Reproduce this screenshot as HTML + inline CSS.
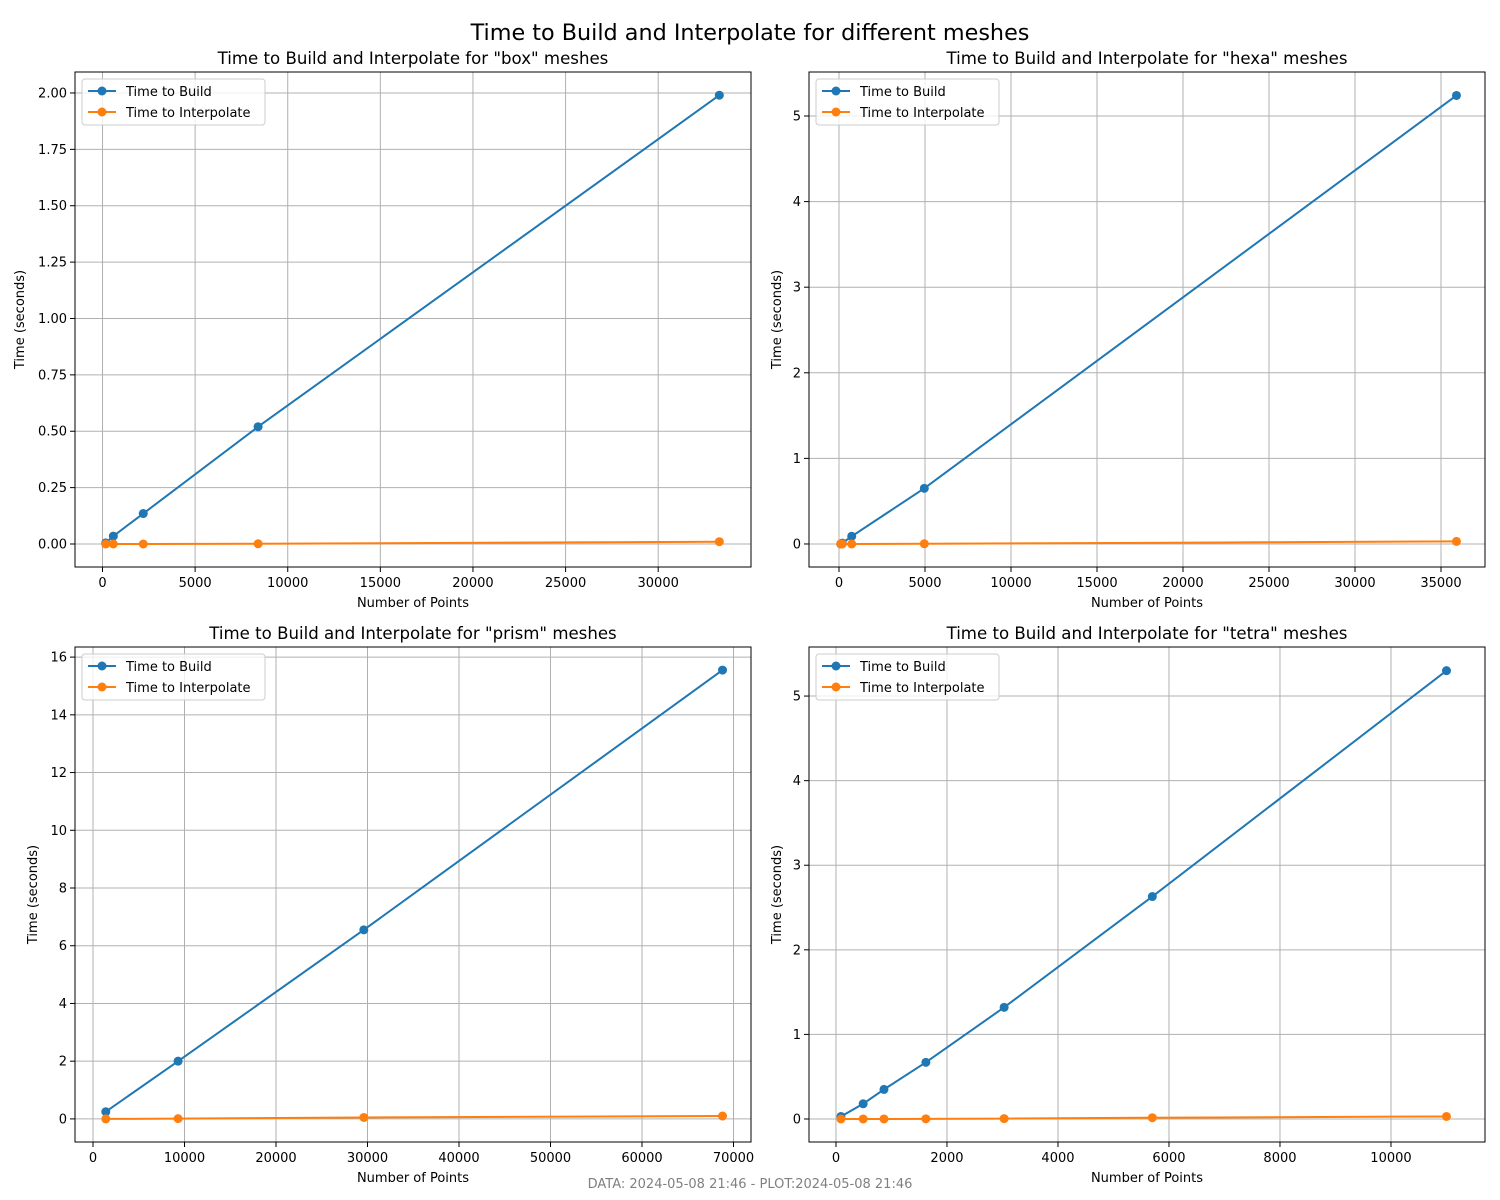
<!DOCTYPE html>
<html><head><meta charset="utf-8"><style>
body{margin:0;background:#fff;font-family:"DejaVu Sans","Liberation Sans",sans-serif}
svg text{font-family:"DejaVu Sans","Liberation Sans",sans-serif}
</style></head><body>
<svg id="fig" width="1500" height="1200" xmlns="http://www.w3.org/2000/svg" style="display:block">
<text x="750" y="40" text-anchor="middle" font-size="22.3" fill="#000">Time to Build and Interpolate for different meshes</text>
<text x="750" y="1188" text-anchor="middle" font-size="13" fill="#808080">DATA: 2024-05-08 21:46 - PLOT:2024-05-08 21:46</text>
</svg>
<script>
const boxX=[170,585,2200,8400,33300];
const boxBuild=[0.005,0.035,0.135,0.52,1.99];
const boxInterp=[0.0,0.0,0.0,0.001,0.01];
const hexaX=[100,190,740,4960,35900];
const hexaBuild=[0.0,0.01,0.09,0.65,5.24];
const hexaInterp=[0.0,0.0,0.0,0.002,0.03];
const prismX=[1400,9300,29600,68800];
const prismBuild=[0.25,2.0,6.55,15.55];
const prismInterp=[0.0,0.01,0.05,0.1];
const tetraX=[90,490,865,1620,3030,5700,11000];
const tetraBuild=[0.03,0.18,0.35,0.67,1.32,2.63,5.30];
const tetraInterp=[0.0,0.0,0.0,0.002,0.005,0.015,0.03];
const boxXTicks=[0,5000,10000,15000,20000,25000,30000];
const boxYTicks=[0,0.25,0.5,0.75,1.0,1.25,1.5,1.75,2.0];
const hexaXTicks=[0,5000,10000,15000,20000,25000,30000,35000];
const hexaYTicks=[0,1,2,3,4,5];
const prismXTicks=[0,10000,20000,30000,40000,50000,60000,70000];
const prismYTicks=[0,2,4,6,8,10,12,14,16];
const tetraXTicks=[0,2000,4000,6000,8000,10000];
const tetraYTicks=[0,1,2,3,4,5];

const svg=document.getElementById('fig');
const NS='http://www.w3.org/2000/svg';
function mk(tag,attrs,parent){const e=document.createElementNS(NS,tag);for(const k in attrs)e.setAttribute(k,attrs[k]);(parent||svg).appendChild(e);return e;}

const panels=[
 {name:'box',L:75,R:751,T:72,B:567,xd:[-1485,35010],yd:[-0.102,2.093],xs:boxX,b:boxBuild,i:boxInterp,xt:boxXTicks,yt:boxYTicks,yf:v=>v.toFixed(2),yOff:55},
 {name:'hexa',L:809,R:1485,T:72,B:567,xd:[-1744,37558],yd:[-0.269,5.514],xs:hexaX,b:hexaBuild,i:hexaInterp,xt:hexaXTicks,yt:hexaYTicks,yf:v=>String(v),yOff:32},
 {name:'prism',L:75,R:751,T:647,B:1142,xd:[-1967,71913],yd:[-0.80,16.35],xs:prismX,b:prismBuild,i:prismInterp,xt:prismXTicks,yt:prismYTicks,yf:v=>String(v),yOff:42},
 {name:'tetra',L:809,R:1485,T:647,B:1142,xd:[-486,11694],yd:[-0.272,5.58],xs:tetraX,b:tetraBuild,i:tetraInterp,xt:tetraXTicks,yt:tetraYTicks,yf:v=>String(v),yOff:32}
];
panels.forEach(p=>{
 const g=mk('g',{});
 
 
 const sx=v=>p.L+(v-p.xd[0])/(p.xd[1]-p.xd[0])*(p.R-p.L);
 const sy=v=>p.B-(v-p.yd[0])/(p.yd[1]-p.yd[0])*(p.B-p.T);
 p.xt.forEach(t=>{const x=sx(t);
  const l=mk('line',{x1:x,x2:x,y1:p.T,y2:p.B,stroke:'#b0b0b0','stroke-width':1},g);
  
  mk('line',{x1:x,x2:x,y1:p.B,y2:p.B+5,stroke:'#000','stroke-width':1},g);
  const tx=mk('text',{x:x,y:p.B+20,'text-anchor':'middle','font-size':13},g);tx.textContent=String(t);
  });
 p.yt.forEach(t=>{const y=sy(t);
  const l=mk('line',{x1:p.L,x2:p.R,y1:y,y2:y,stroke:'#b0b0b0','stroke-width':1},g);
  
  mk('line',{x1:p.L-5,x2:p.L,y1:y,y2:y,stroke:'#000','stroke-width':1},g);
  const tx=mk('text',{x:p.L-8,y:y+4.5,'text-anchor':'end','font-size':13},g);tx.textContent=p.yf(t);
  });
 [[p.b,'#1f77b4','build'],[p.i,'#ff7f0e','interpolate']].forEach(([ys,c,n])=>{
  const pts=p.xs.map((x,k)=>sx(x)+','+sy(ys[k])).join(' ');
  const pl=mk('polyline',{points:pts,fill:'none',stroke:c,'stroke-width':2},g);
  
  p.xs.forEach((x,k)=>{const ci=mk('circle',{cx:sx(x),cy:sy(ys[k]),r:4.5,fill:c},g);
   });
 });
 const fr=mk('rect',{x:p.L,y:p.T,width:p.R-p.L,height:p.B-p.T,fill:'none',stroke:'#000','stroke-width':1},g);
 
 const ti=mk('text',{x:(p.L+p.R)/2,y:p.T-8,'text-anchor':'middle','font-size':16.6},g);
 ti.textContent='Time to Build and Interpolate for "'+p.name+'" meshes';
 
 const xl=mk('text',{x:(p.L+p.R)/2,y:p.B+40,'text-anchor':'middle','font-size':13},g);xl.textContent='Number of Points';
 
 const cy=(p.T+p.B)/2, cx=p.L-p.yOff+4;
 const yl=mk('text',{x:cx,y:cy,'text-anchor':'middle','font-size':13,transform:'rotate(-90 '+cx+' '+cy+')'},g);yl.textContent='Time (seconds)';
 
 const lg=mk('g',{},g);
 
 mk('rect',{x:p.L+7,y:p.T+7,width:183,height:46,rx:3,fill:'#fff','fill-opacity':0.8,stroke:'#ccc'},lg);
 [['Time to Build','#1f77b4'],['Time to Interpolate','#ff7f0e']].forEach(([t,c],k)=>{
  const y=p.T+19+k*21;
  mk('line',{x1:p.L+13,x2:p.L+41,y1:y,y2:y,stroke:c,'stroke-width':2},lg);
  mk('circle',{cx:p.L+27,cy:y,r:4.5,fill:c},lg);
  const tx=mk('text',{x:p.L+51,y:y+5,'font-size':13},lg);tx.textContent=t;
  
 });
});
</script>
</body></html>
